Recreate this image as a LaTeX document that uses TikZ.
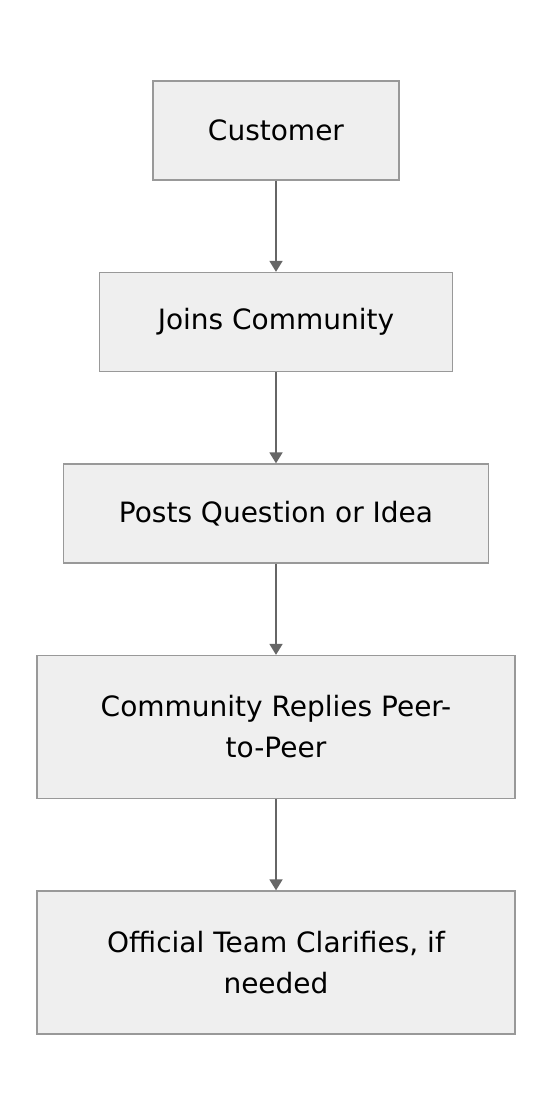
\documentclass[tikz,border=0pt]{standalone}
\usepackage{fontspec}
\setmainfont{DejaVu Sans}
\usetikzlibrary{positioning,arrows.meta}

\definecolor{boxfill}{HTML}{EFEFEF}
\definecolor{boxline}{HTML}{999999}
\definecolor{flowline}{HTML}{666666}

\begin{document}
\begin{tikzpicture}[
    stepbox/.style={draw=boxline, fill=boxfill, line width=1.3pt, rectangle,
                    minimum height=99pt, align=center, font=\fontsize{28}{41}\selectfont},
    flow/.style={draw=flowline, line width=1.8pt, -{Triangle[width=13pt,length=11pt]}},
    node distance=91.2pt
]
\useasboundingbox (0,0) rectangle (552pt,-1116pt);
\node[stepbox, minimum width=246pt] (customer) at (276pt,-130.5pt) {Customer};
\node[stepbox, minimum width=353pt, below=of customer] (joins) {Joins Community};
\node[stepbox, minimum width=425pt, below=of joins] (posts) {Posts Question or Idea};
\node[stepbox, minimum width=478pt, minimum height=143pt, below=of posts] (replies) {Community Replies Peer-\\to-Peer};
\node[stepbox, minimum width=478pt, minimum height=143pt, below=of replies] (official) {Official Team Clarifies, if\\needed};

\draw[flow] (customer) -- (joins);
\draw[flow] (joins) -- (posts);
\draw[flow] (posts) -- (replies);
\draw[flow] (replies) -- (official);
\end{tikzpicture}
\end{document}
